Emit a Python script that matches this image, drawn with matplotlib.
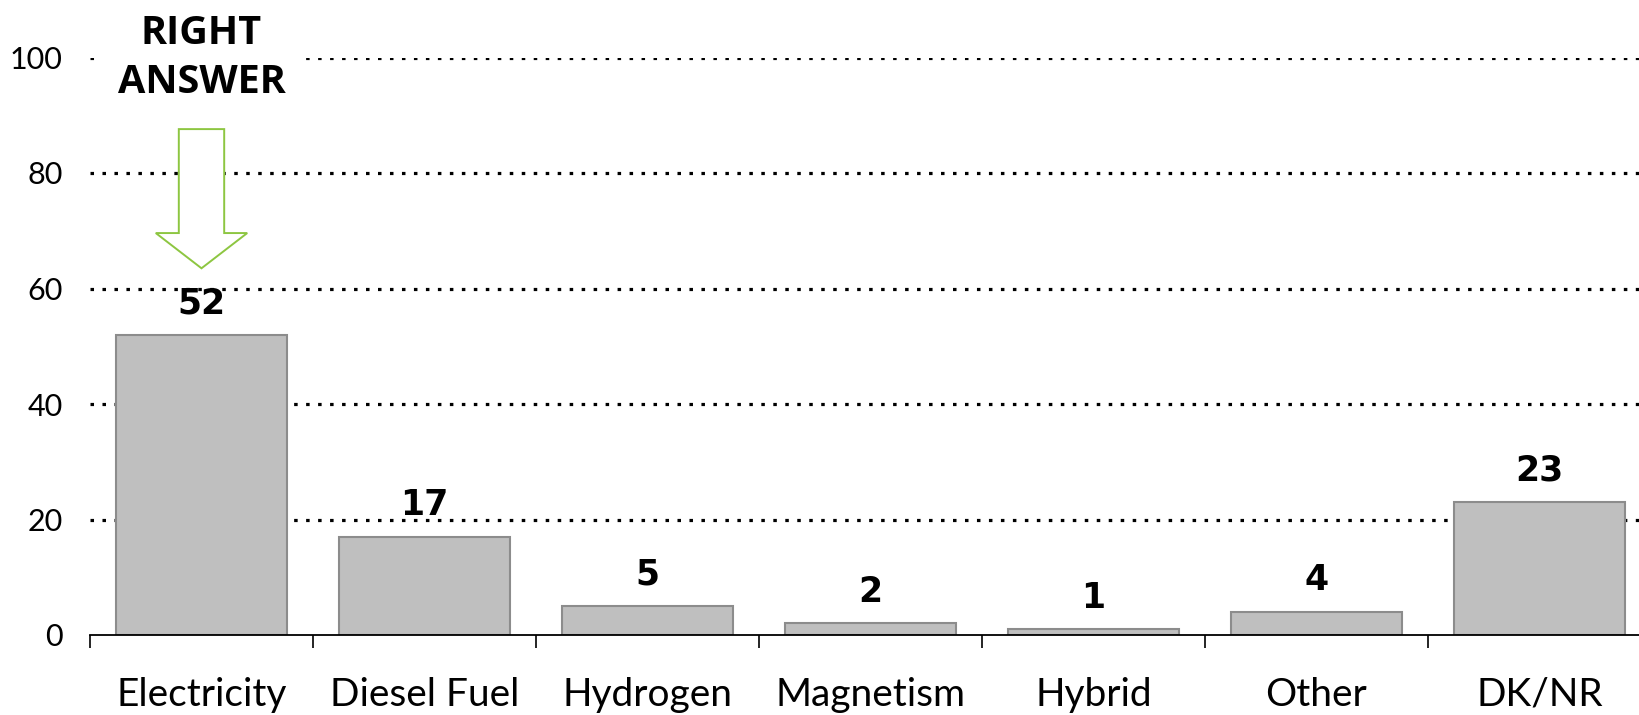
import matplotlib
matplotlib.use("Agg")
import matplotlib.pyplot as plt
from matplotlib.patches import FancyArrow
import numpy as np

categories = ["Electricity", "Diesel Fuel", "Hydrogen", "Magnetism", "Hybrid", "Other", "DK/NR"]
values = [52, 17, 5, 2, 1, 4, 23]
yticks = [0, 20, 40, 60, 80, 100]
highlight_index = 0
highlight_text = "RIGHT\nANSWER"

fig = plt.figure(figsize=(16.4, 7.15), dpi=100)
ax = fig.add_axes([90 / 1640, 80 / 715, 1561 / 1640, 577.5 / 715])

x = np.arange(len(categories))
ax.bar(x, values, width=0.765, color="#BFBFBF", edgecolor="#8C8C8C",
       linewidth=1.5, zorder=3)

ax.set_xlim(-0.5, len(categories) - 0.5)
ax.set_ylim(0, 100)

# grid
for yv in yticks[1:]:
    ax.axhline(yv, color="black", linewidth=2.3, linestyle=(0, (1.1, 2.65)),
               zorder=1, dash_capstyle="butt")

for s in ["left", "right", "top"]:
    ax.spines[s].set_visible(False)
ax.spines["bottom"].set_linewidth(1.3)
ax.spines["bottom"].set_zorder(4)

ax.set_yticks(yticks)
ax.set_yticklabels([str(v) for v in yticks], fontfamily="Lato", fontsize=22)
ax.tick_params(axis="y", length=0, pad=19.5)

ax.set_xticks(x)
ax.set_xticklabels(categories, fontfamily="Lato", fontsize=28)
ax.set_xticks(np.arange(-0.5, len(categories), 1.0), minor=True)
ax.tick_params(axis="x", which="major", length=0, pad=30)
ax.tick_params(axis="x", which="minor", length=9, width=1.2, direction="out")

for xi, v in zip(x, values):
    ax.annotate(str(v), xy=(xi, v), xytext=(0, 15.5), textcoords="offset points",
                ha="center", va="baseline", fontfamily="DejaVu Sans",
                fontweight="bold", fontsize=25, zorder=5)

# hollow green arrow pointing to the right answer
hv = values[highlight_index]
arrow = FancyArrow(highlight_index, hv + 35.6, 0, -24.1, width=0.2035,
                   head_width=0.41, head_length=6.1, length_includes_head=True,
                   facecolor="white", edgecolor="#8DC641", linewidth=1.4,
                   zorder=6, clip_on=False)
ax.add_patch(arrow)

ax.text(highlight_index, 93.85, highlight_text, ha="center", va="baseline",
        multialignment="center", fontfamily="Open Sans", fontweight="bold",
        fontsize=28.5, linespacing=1.33, zorder=7, clip_on=False,
        bbox=dict(facecolor="white", edgecolor="none", pad=14))

fig.savefig("out.png", dpi=100)
